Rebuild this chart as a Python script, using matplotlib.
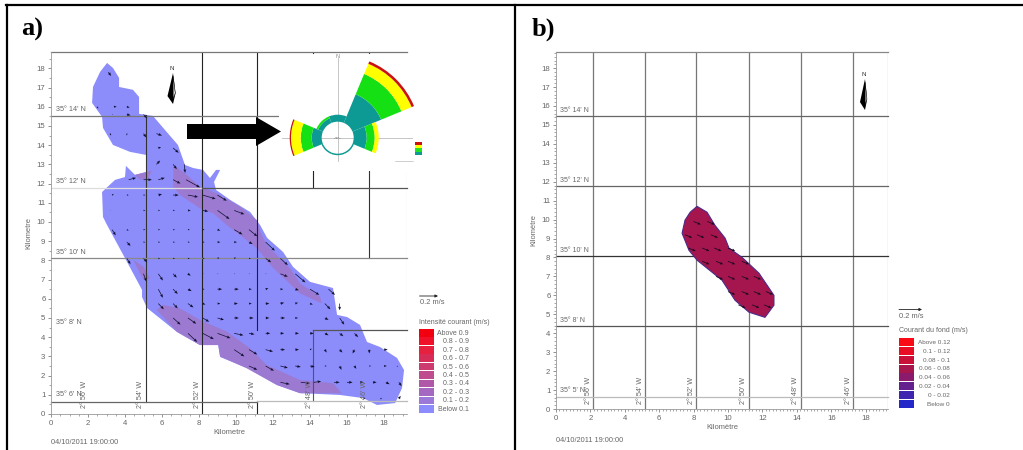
import matplotlib
matplotlib.use("Agg")
import matplotlib.pyplot as plt
from matplotlib.patches import Polygon, Rectangle
from matplotlib.ticker import MultipleLocator
import numpy as np

plt.rcParams['font.family'] = ['Liberation Sans', 'DejaVu Sans']
W, H = 1023, 450
GREY = '#666666'

# ---- panel a data (kilometres) ----
lake_a = [(3.03,18.28),(3.35,18.02),(3.68,17.5),(3.68,17.03),(4.43,16.88),(4.76,16.51),(4.76,15.63),(5.51,15.52),
 (6.16,14.79),(6.86,14.01),(7.24,12.97),(7.68,12.81),(8.22,12.71),(8.59,12.29),(8.92,12.71),(9.14,12.71),(8.81,12.08),
 (8.92,11.67),(9.68,11.15),(10.76,10.52),(11.3,9.84),(11.68,9.17),(12.54,8.44),(13.08,7.66),(14.0,6.88),(15.24,6.56),
 (15.46,5.16),(16.0,5.05),(16.7,4.64),(17.08,3.75),(17.78,3.49),(18.7,2.92),(19.08,2.29),(18.97,1.35),(18.6,0.57),
 (17.62,0.47),(16.86,0.83),(15.62,0.99),(13.46,1.09),(12.22,1.51),(10.59,2.4),(9.14,2.97),(9.03,3.59),(8.05,3.59),
 (6.81,4.27),(5.19,5.52),(4.92,6.09),(4.92,6.46),(4.11,7.92),(3.03,9.84),(2.81,10.26),(2.76,11.56),(3.46,12.19),
 (4.0,12.34),(4.05,12.92),(4.54,12.45),(5.14,12.6),(5.14,13.49),(4.27,13.65),(3.35,14.01),(2.81,14.9),(2.76,15.47),
 (2.22,16.2),(2.27,17.03),(2.65,17.81)]
band_ne = [(6.61,12.97),(7.24,12.53),(8.05,11.84),(8.95,11.49),(10.22,10.8),(11.12,10.1),(11.3,9.5),(11.66,8.8),
 (12.2,8.28),(12.92,7.59),(13.46,6.8),(14.54,6.11),(14.63,5.76),(13.46,6.28),(12.02,7.59),(11.12,8.63),(10.22,9.32),
 (9.5,9.84),(8.77,10.45),(8.05,10.71),(6.97,11.41),(6.61,11.84)]
band_sw = [(6.07,5.68),(6.97,5.5),(8.05,4.9),(9.5,4.29),(10.76,3.42),(11.66,2.55),(13.46,1.77),(15.26,1.6),(15.71,1.08),
 (13.46,1.08),(12.2,1.51),(10.58,2.38),(9.14,2.99),(9.05,3.59),(8.05,3.59),(6.79,4.29),(5.71,5.42)]
band_w = [(4.45,8.02),(4.99,7.67),(5.35,7.07),(4.99,6.98),(4.63,7.67)]
band_n = [(4.54,12.45),(5.44,12.67),(5.26,12.27),(4.81,12.19)]

# arrows: (y, xs, us, vs)
arrows_a = [
 (17.8,[3.1],[.15],[-.2]),
 (16.0,[2.5,3.4,4.1],[.05,.15,.15],[-.1,0,-.05]),
 (15.6,[3.3,4.1,5.0],[.05,.2,.2],[0,-.05,-.2]),
 (14.6,[3.2,4.1,5.0,5.7],[.05,0,.15,.3],[-.1,-.1,-.2,-.1]),
 (13.85,[5.8,6.6],[.15,.3],[.05,-.25]),
 (13.0,[5.7,6.6,7.2],[.2,.2,.05],[.2,-.25,-.45]),
 (12.2,[4.2,5.0,5.8,6.6,7.3],[.4,.45,.35,.4,.75],[.1,0,.1,-.2,-.4]),
 (11.4,[3.3,4.1,5.0,5.8,6.6,7.4,8.2,9.0],[.1,.1,.1,.2,.3,.55,.7,.5],[.05,0,0,.05,0,-.1,-.2,-.3]),
 (10.6,[3.2,5.0,5.8,6.6,7.4,8.2,9.0,9.9],[.03,.1,.1,.1,.15,.3,.65,.55],[0,0,0,0,0,-.05,-.45,-.2]),
 (9.6,[3.3,4.1,5.0,5.8,6.6,7.4,8.2,9.0,9.9,10.7],[.2,.1,.1,.1,.1,.1,.1,.15,.45,.45],[-.3,-.05,0,0,0,0,0,-.05,-.25,-.35]),
 (8.95,[4.1,5.0,5.8,6.6,7.4,8.2,9.0,9.9,10.7,11.6],[.2,.1,.1,.1,.1,.1,.15,.15,.2,.5],[-.2,0,0,0,0,0,0,0,-.1,-.45]),
 (8.1,[4.1,5.0,5.8,6.6,7.4,8.2,9.0,9.9,10.7,11.6,12.4],[.2,.2,.1,.1,.1,.1,.1,.1,.1,.3,.4],[-.3,-.2,0,0,0,0,.05,.05,0,-.2,-.35]),
 (7.3,[5.0,5.8,6.6,7.4,8.2,9.0,9.9,10.7,11.6,12.4,13.2],[.15,.25,.2,.15,.05,.05,.05,.05,.05,.4,.55],[-.4,-.35,-.2,-.1,0,0,0,0,0,-.15,-.45]),
 (6.5,[5.8,6.6,7.4,8.2,9.0,9.9,10.7,11.6,12.4,13.2,14.0,15.0],[.25,.25,.2,.1,.25,.25,.15,.15,.15,.2,.5,.35],[-.45,-.25,-.1,0,0,0,0,.05,0,-.05,-.3,-.3]),
 (5.75,[5.8,6.6,7.4,8.2,9.0,9.9,10.7,11.6,12.4,13.2,14.0,14.8,15.6],[.3,.25,.3,.15,.15,.2,.15,.2,.2,.15,.15,.3,0],[-.3,-.25,-.2,-.05,0,0,0,0,.05,.05,-.05,-.3,-.35]),
 (5.0,[6.6,7.4,8.2,9.0,9.9,10.7,11.6,12.4,13.2,14.8,15.6],[.4,.45,.35,.35,.25,.25,.2,.25,.15,.2,.25],[-.35,-.3,-.2,-.1,0,0,0,0,0,-.1,-.35]),
 (4.2,[7.4,8.2,9.0,9.9,10.7,11.6,12.4,13.2,14.0,14.8,15.6,16.4],[.5,.6,.7,.5,.3,.25,.2,.2,.2,.2,.2,.2],[-.45,-.3,-.25,-.1,-.05,0,0,0,0,-.1,-.15,-.2]),
 (3.35,[9.9,10.7,11.6,12.4,13.2,14.0,14.8,15.6,16.4,17.2,18.0],[.55,.45,.4,.25,.2,.1,.1,.15,-.1,0,.2],[-.35,-.25,-.1,0,0,.05,-.15,-.15,-.2,-.2,0]),
 (2.5,[10.7,11.6,12.4,13.2,14.0,14.8,15.6,16.4,17.2,18.0,18.7],[.45,.45,.4,.3,.25,.1,.1,.1,.1,.15,.05],[-.2,-.25,-.1,-.05,-.05,0,-.2,-.15,0,0,-.05]),
 (1.65,[12.4,13.5,14.2,15.3,16.0,16.7,17.4,18.1,18.8],[.5,.5,.4,.3,.3,.2,.2,.2,.15],[-.1,-.05,.05,0,0,0,0,-.1,-.2]),
 (0.8,[16.9,17.8,18.8],[.1,.1,.1],[0,0,.15]),
]

legend_a_labels = ['Above 0.9','0.8 - 0.9','0.7 - 0.8','0.6 - 0.7','0.5 - 0.6','0.4 - 0.5','0.3 - 0.4','0.2 - 0.3','0.1 - 0.2','Below 0.1']
legend_a_colors = ['#f20010','#f01028','#e82040','#d82c58','#cc3a70','#c04c90','#b058a8','#a468c0','#9c78d8','#8c8cff']
lat_labels_a = ["35° 14' N","35° 12' N","35° 10' N","35° 8' N","35° 6' N"]
lat_pos_a = [15.65,11.9,8.25,4.6,0.85]
lon_labels = ["2° 56' W","2° 54' W","2° 52' W","2° 50' W","2° 48' W","2° 46' W"]
lon_pos_a = [1.8,4.85,7.9,10.9,13.95,16.95]

# ---- rose data ----
rose_dirs = [0,45,90,135,180,225,270,315]
rose_teal = [7,31,13,1.5,1.5,1.5,10,5]
rose_green = [0,22,8,0,0,0,11,2]
rose_yellow = [0,11,4,0,0,0,9.7,0]
rose_red = [0,2.6,0,0,0,0,1.3,0]

# ---- panel b data ----
lake_b = [(8.2,10.7),(8.78,10.39),(9.24,9.7),(9.83,9.02),(10.06,8.49),(10.81,8.01),(11.8,7.17),(12.67,6.0),(12.67,5.48),
 (12.15,4.84),(11.22,5.11),(10.41,5.74),(9.65,6.8),(8.2,7.86),(7.73,8.38),(7.33,9.28),(7.5,9.97),(7.8,10.39)]
arrows_b = [
 (9.9,[8.0,8.8]),(9.2,[7.5,8.2,9.0]),(8.5,[7.7,8.5,9.2,10.0]),(7.8,[8.5,9.3,10.0,10.8]),
 (7.0,[9.3,10.0,10.8,11.5]),(6.2,[10.0,10.8,11.5,12.2]),(5.5,[10.6,11.4,12.1]),
]
arrow_b_u, arrow_b_v = 0.42, -0.16
legend_b_labels = ['Above 0.12','0.1 - 0.12','0.08 - 0.1','0.06 - 0.08','0.04 - 0.06','0.02 - 0.04','0 - 0.02','Below 0']
legend_b_colors = ['#fa0a14','#e80c24','#c81038','#a8164e','#8c1a6c','#64208c','#4024b0','#2428c8']
lat_labels_b = ["35° 14' N","35° 12' N","35° 10' N","35° 8' N","35° 5' N"]
lat_pos_b = [15.55,11.9,8.2,4.5,0.8]
lon_pos_b = [1.9,4.9,7.9,10.9,13.95,17.0]


def map_axes(fig, l, r, b, t, xmax, ymax, minor):
    ax = fig.add_axes([l/W, 1-b/H, (r-l)/W, (b-t)/H], zorder=1)
    ax.set_xlim(0, xmax); ax.set_ylim(0, ymax)
    for s in ax.spines.values():
        s.set_visible(False)
    ax.spines['bottom'].set_visible(True); ax.spines['left'].set_visible(True)
    ax.spines['bottom'].set_color('#999999'); ax.spines['left'].set_color('#999999')
    ax.spines['bottom'].set_linewidth(.6); ax.spines['left'].set_linewidth(.6)
    ax.set_xticks(np.arange(0, 19, 2)); ax.set_yticks(np.arange(0, 19, 1))
    ax.xaxis.set_minor_locator(MultipleLocator(minor)); ax.yaxis.set_minor_locator(MultipleLocator(minor))
    ax.tick_params(which='major', length=2.5, width=.5, labelsize=5.6, colors=GREY, pad=1.5)
    ax.tick_params(which='minor', length=1.3, width=.4, colors=GREY)
    return ax


fig = plt.figure(figsize=(W/100, H/100), dpi=100, facecolor='white')

# ---------- panel a ----------
axa = map_axes(fig, 51, 407, 414, 52, 19.24, 18.85, 0.5)
axa.add_patch(Polygon(lake_a, closed=True, fc='#8c8cfb', ec='none', zorder=1))
for band in (band_ne, band_sw, band_w, band_n):
    axa.add_patch(Polygon(band, closed=True, fc='#9c7ad2', ec='none', zorder=1.5))
vl = [(5.12,.65,15.55,'#333333'),(8.14,0,18.85,'#222222'),(11.15,4.4,18.85,'#222222'),(11.15,0,.7,'#222222'),
      (14.18,.7,4.4,'#555555'),(14.18,11.8,18.85,'#222222'),(17.2,8.1,18.85,'#333333'),(19.22,0,18.85,'#cccccc')]
for x, y0, y1, c in vl:
    axa.plot([x, x], [y0, y1], color=c, lw=.8, zorder=2)
hl = [(15.5,0,12.4,'#777777'),(11.75,0,8.14,'#dddddd'),(11.75,8.14,19.24,'#555555'),(8.1,0,19.24,'#888888'),
      (4.4,14.18,19.24,'#555555'),(.65,0,11.15,'#666666'),(.7,11.15,19.24,'#bbbbbb'),(18.85,0,19.24,'#777777')]
for y, x0, x1, c in hl:
    axa.plot([x0, x1], [y, y], color=c, lw=.9, zorder=2, clip_on=False)
qx, qy, qu, qv = [], [], [], []
for y, xs, us, vs in arrows_a:
    qx += xs; qy += [y]*len(xs); qu += us; qv += vs
axa.quiver(qx, qy, qu, qv, angles='xy', scale_units='xy', scale=1, color='#111133', width=.002,
           headwidth=4, headlength=5, headaxislength=4.5, minlength=.6, zorder=3)
for s, y in zip(lat_labels_a, lat_pos_a):
    axa.text(.25, y, s, fontsize=5.2, color=GREY, va='bottom', ha='left', zorder=4)
for s, x in zip(lon_labels, lon_pos_a):
    axa.text(x, .3, s, fontsize=5.2, color=GREY, rotation=90, va='bottom', ha='center', zorder=4)
axa.set_xlabel('Kilometre', fontsize=5.4, color=GREY, labelpad=2)
axa.set_ylabel('Kilometre', fontsize=5.4, color=GREY, labelpad=3)

# ---------- panel b ----------
axb = map_axes(fig, 556, 888, 409, 52, 19.3, 18.85, 0.2)
for x in [2.13,5.15,8.16,11.2,14.22,17.27]:
    axb.plot([x, x], [0, 18.85], color='#777777', lw=.9, zorder=2)
axb.plot([19.28, 19.28], [0, 18.85], color='#bbbbbb', lw=.9, zorder=2)
for y, c in [(15.46,'#666666'),(11.78,'#666666'),(8.07,'#333333'),(4.38,'#555555'),(.63,'#bbbbbb'),(18.85,'#888888')]:
    axb.plot([0, 19.3], [y, y], color=c, lw=.9, zorder=2, clip_on=False)
axb.add_patch(Polygon(lake_b, closed=True, fc='#a6164e', ec='#4a2a88', lw=.8, zorder=3))
bx, by = [], []
for y, xs in arrows_b:
    bx += xs; by += [y]*len(xs)
axb.quiver(bx, by, [arrow_b_u]*len(bx), [arrow_b_v]*len(bx), angles='xy', scale_units='xy', scale=1,
           color='#1a0a20', width=.0024, headwidth=3.5, headlength=4, headaxislength=3.5, zorder=4)
for s, y in zip(lat_labels_b, lat_pos_b):
    axb.text(.25, y, s, fontsize=5, color=GREY, va='bottom', ha='left', zorder=4)
for s, x in zip(lon_labels, lon_pos_b):
    axb.text(x, .25, s, fontsize=5.2, color=GREY, rotation=90, va='bottom', ha='center', zorder=4)
axb.set_xlabel('Kilomètre', fontsize=5.4, color=GREY, labelpad=2)
axb.set_ylabel('Kilomètre', fontsize=5.4, color=GREY, labelpad=3)

# ---------- page overlay in pixels ----------
pg = fig.add_axes([0, 0, 1, 1], zorder=2)
pg.set_xlim(0, W); pg.set_ylim(H, 0); pg.axis('off'); pg.patch.set_alpha(0)
# frame
pg.plot([6.5, 6.5], [4.5, 450], color='k', lw=1.6)
pg.plot([514.5, 514.5], [4.5, 450], color='k', lw=1.6)
pg.plot([5.5, 1023], [4.8, 4.8], color='k', lw=1.6)
pg.text(21, 36, 'a)', family='Liberation Serif', weight='bold', fontsize=19, color='k', va='baseline')
pg.text(532, 36, 'b)', family='Liberation Serif', weight='bold', fontsize=19, color='k', va='baseline')
pg.text(51, 443, '04/10/2011 19:00:00', fontsize=5.3, color=GREY, va='center')
pg.text(556, 440, '04/10/2011 19:00:00', fontsize=5.3, color=GREY, va='center')

# rose backing and crosshair
pg.add_patch(Rectangle((279, 54), 153, 117, fc='white', ec='none', zorder=1))
pg.plot([337.7, 337.7], [58, 161], color='#bbbbbb', lw=.6, zorder=2)
pg.plot([282, 412], [137.7, 137.7], color='#bbbbbb', lw=.6, zorder=2)
pg.text(337.7, 57, 'N', fontsize=4, color='#888888', ha='center', va='center', zorder=2)
pg.text(337.7, 137.7, 'Calm\n0.00 %', fontsize=1.6, color='#666666', ha='center', va='center', zorder=6, linespacing=1)

# big arrow
pg.add_patch(Polygon([(187,124),(256,124),(256,117),(281,131.5),(256,146),(256,139),(187,139)], closed=True, fc='k', ec='none', zorder=3))

# north arrows
def north(x, top, bot, wid):
    m = top + (bot-top)*.72
    pg.add_patch(Polygon([(x+1, top+8), (x+wid*.8, m), (x+1, bot), (x-wid, m+3)], closed=True, fc='k', ec='none', zorder=3))
    pg.add_patch(Polygon([(x+1.2, top+11), (x+wid*.7, m), (x+1.2, bot-5)], closed=True, fc='white', ec='k', lw=.3, zorder=3))
    pg.text(x, top+3, 'N', fontsize=4.5, color='#333333', ha='center', va='center', zorder=3)
north(172, 65, 104, 4.5)
north(864, 71, 110, 4)

# scale arrows and legends
def legend(x0, swatch_w, ytop, row_h, colors, labels, title, xright, ytitle, fs):
    pg.text(x0, ytitle, title, fontsize=5, color=GREY, va='center', ha='left')
    for i, (c, s) in enumerate(zip(colors, labels)):
        pg.add_patch(Rectangle((x0, ytop+i*row_h), swatch_w, row_h-.8, fc=c, ec='none'))
        pg.text(xright, ytop+(i+.5)*row_h, s, fontsize=fs, color=GREY, va='center', ha='right')

legend(419, 15, 329, 8.45, legend_a_colors, legend_a_labels, 'Intensité courant (m/s)', 469, 322, 5)
legend(899, 15, 338, 8.85, legend_b_colors, legend_b_labels, 'Courant du fond (m/s)', 950, 331, 4.6)
for x0, x1, y, ty in [(419.5, 438, 296, 303), (899, 922, 309.5, 316)]:
    pg.annotate('', xy=(x1, y), xytext=(x0, y), arrowprops=dict(arrowstyle='-|>', color='#222222', lw=.6, mutation_scale=4, shrinkA=0, shrinkB=0))
    pg.text(x0, ty, '0.2 m/s', fontsize=5.4, color=GREY, va='center', ha='left')

# rose legend
for i, c in enumerate(['#cc1111', '#ffff00', '#22e022', '#0e9a94', '#ffffff']):
    pg.add_patch(Rectangle((415, 142+i*3.2), 6.5, 3.2, fc=c, ec='none', zorder=3))
pg.plot([395, 413], [160.5, 160.5], color='#aaaaaa', lw=.4, zorder=3)

# ---------- rose as polar bars ----------
R = 90
cx, cy = 337.7, 137.7
rose = fig.add_axes([(cx-R)/W, 1-(cy+R)/H, 2*R/W, 2*R/H], projection='polar', zorder=3)
rose.set_theta_zero_location('N'); rose.set_theta_direction(-1)
rose.set_ylim(0, R); rose.axis('off'); rose.patch.set_alpha(0)
th = np.deg2rad(rose_dirs); wd = np.deg2rad(45)
bottom = np.full(len(rose_dirs), 16.0)
for vals, c in [(rose_teal,'#0e9a94'),(rose_green,'#14e014'),(rose_yellow,'#ffff00'),(rose_red,'#cc1111')]:
    rose.bar(th, vals, width=wd, bottom=bottom, color=c, lw=0)
    bottom = bottom + np.array(vals)

fig.savefig('out.png', dpi=100)
